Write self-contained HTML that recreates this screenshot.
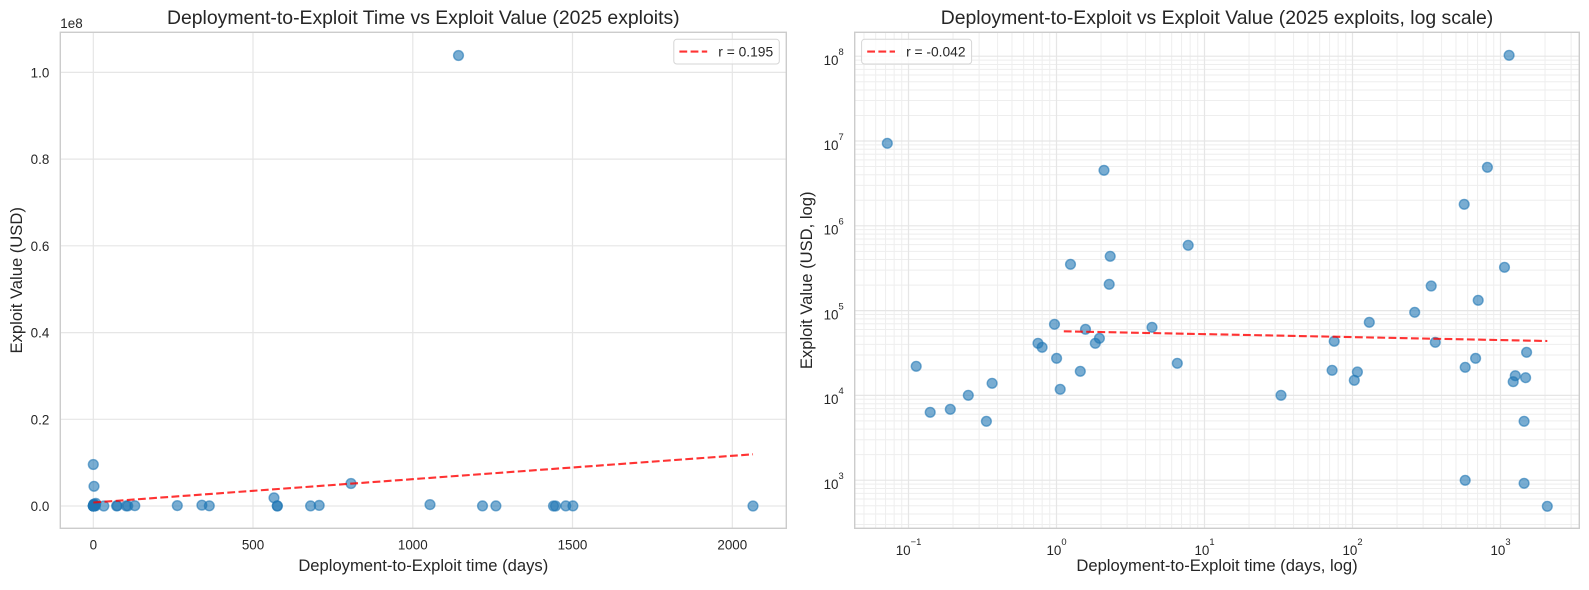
<!DOCTYPE html>
<html><head><meta charset="utf-8"><style>
html,body{margin:0;padding:0;background:#fff;}
svg{display:block;}
text{font-family:"Liberation Sans",Arial,sans-serif;fill:#262626;}
.tk{font-size:13.4px;}
.lb{font-size:16.6px;}
.tt{font-size:19.4px;}
.lg{font-size:13.8px;}
.gM{stroke:#e6e6e6;stroke-width:1.2;}
.gm{stroke:#eeeeee;stroke-width:1;}
.p circle{fill:#1f77b4;fill-opacity:.6;stroke:#1f77b4;stroke-opacity:.6;stroke-width:1.4;}
.fit{stroke:#ff0000;stroke-opacity:.8;stroke-width:2.1;stroke-dasharray:7.8 3.4;fill:none;}
</style></head><body>
<svg width="1589" height="590" viewBox="0 0 1589 590" xmlns="http://www.w3.org/2000/svg">
<rect width="1589" height="590" fill="#fff"/>

<!-- ============ LEFT PLOT ============ -->
<g class="gM">
<line x1="93.3" y1="32.3" x2="93.3" y2="528.3"/>
<line x1="253" y1="32.3" x2="253" y2="528.3"/>
<line x1="412.8" y1="32.3" x2="412.8" y2="528.3"/>
<line x1="572.5" y1="32.3" x2="572.5" y2="528.3"/>
<line x1="732.3" y1="32.3" x2="732.3" y2="528.3"/>
<line x1="60.3" y1="506" x2="786.3" y2="506"/>
<line x1="60.3" y1="419.3" x2="786.3" y2="419.3"/>
<line x1="60.3" y1="332.6" x2="786.3" y2="332.6"/>
<line x1="60.3" y1="245.8" x2="786.3" y2="245.8"/>
<line x1="60.3" y1="159.1" x2="786.3" y2="159.1"/>
<line x1="60.3" y1="72.4" x2="786.3" y2="72.4"/>
</g>
<rect x="60.3" y="32.3" width="726" height="496" fill="none" stroke="#cccccc" stroke-width="1.4"/>

<g class="p">
<circle cx="458.5" cy="55.5" r="4.9"/>
<circle cx="93.3" cy="464.5" r="4.9"/>
<circle cx="94" cy="486.3" r="4.9"/>
<circle cx="351" cy="483.5" r="4.9"/>
<circle cx="274" cy="497.8" r="4.9"/>
<circle cx="95.8" cy="503.4" r="4.9"/>
<circle cx="94" cy="504.1" r="4.9"/>
<circle cx="93.7" cy="504.5" r="4.9"/>
<circle cx="430" cy="504.6" r="4.9"/>
<circle cx="94" cy="505.1" r="4.9"/>
<circle cx="201.9" cy="505.2" r="4.9"/>
<circle cx="319.2" cy="505.4" r="4.9"/>
<circle cx="177.3" cy="505.6" r="4.9"/>
<circle cx="134.8" cy="505.7" r="4.9"/>
<circle cx="93.6" cy="505.7" r="4.9"/>
<circle cx="94.7" cy="505.7" r="4.9"/>
<circle cx="93.8" cy="505.7" r="4.9"/>
<circle cx="94.3" cy="505.8" r="4.9"/>
<circle cx="93.5" cy="505.8" r="4.9"/>
<circle cx="93.6" cy="505.8" r="4.9"/>
<circle cx="93.9" cy="505.8" r="4.9"/>
<circle cx="117.3" cy="505.8" r="4.9"/>
<circle cx="209.3" cy="505.8" r="4.9"/>
<circle cx="572.9" cy="505.9" r="4.9"/>
<circle cx="93.6" cy="505.9" r="4.9"/>
<circle cx="310.6" cy="505.9" r="4.9"/>
<circle cx="93.3" cy="505.9" r="4.9"/>
<circle cx="95.4" cy="505.9" r="4.9"/>
<circle cx="277.3" cy="505.9" r="4.9"/>
<circle cx="93.8" cy="505.9" r="4.9"/>
<circle cx="116.6" cy="505.9" r="4.9"/>
<circle cx="127.8" cy="505.9" r="4.9"/>
<circle cx="126.2" cy="505.9" r="4.9"/>
<circle cx="495.9" cy="505.9" r="4.9"/>
<circle cx="482.5" cy="505.9" r="4.9"/>
<circle cx="565.8" cy="505.9" r="4.9"/>
<circle cx="93.4" cy="505.9" r="4.9"/>
<circle cx="93.6" cy="505.9" r="4.9"/>
<circle cx="93.4" cy="506" r="4.9"/>
<circle cx="103.8" cy="506" r="4.9"/>
<circle cx="93.3" cy="506" r="4.9"/>
<circle cx="93.4" cy="506" r="4.9"/>
<circle cx="93.4" cy="506" r="4.9"/>
<circle cx="553.5" cy="506" r="4.9"/>
<circle cx="277.3" cy="506" r="4.9"/>
<circle cx="555.5" cy="506" r="4.9"/>
<circle cx="753" cy="506" r="4.9"/>
</g>
<path class="fit" d="M93.3,502.5 L753,454.3"/>

<!-- legend left -->
<rect x="673.8" y="39.3" width="105.5" height="24.7" rx="3" fill="#fff" fill-opacity=".8" stroke="#d6d6d6" stroke-width="1"/>
<line class="fit" x1="679.4" y1="51.6" x2="707.2" y2="51.6"/>
<text class="lg" x="718.3" y="56.6">r = 0.195</text>

<!-- left ticks -->
<g class="tk" text-anchor="end">
<text x="49.3" y="511">0.0</text>
<text x="49.3" y="424.3">0.2</text>
<text x="49.3" y="337.6">0.4</text>
<text x="49.3" y="250.8">0.6</text>
<text x="49.3" y="164.1">0.8</text>
<text x="49.3" y="77.4">1.0</text>
</g>
<text class="tk" x="60.3" y="28">1e8</text>
<g class="tk" text-anchor="middle">
<text x="93.3" y="549.3">0</text>
<text x="253" y="549.3">500</text>
<text x="412.8" y="549.3">1000</text>
<text x="572.5" y="549.3">1500</text>
<text x="732.3" y="549.3">2000</text>
</g>
<text class="tt" x="423.3" y="24" text-anchor="middle">Deployment-to-Exploit Time vs Exploit Value (2025 exploits)</text>
<text class="lb" x="423.3" y="571" text-anchor="middle">Deployment-to-Exploit time (days)</text>
<text class="lb" transform="translate(22,280.3) rotate(-90)" text-anchor="middle">Exploit Value (USD)</text>

<!-- ============ RIGHT PLOT ============ -->
<g class="gm">
<!-- minor x -->
<line x1="863.95" y1="32.3" x2="863.95" y2="528.3"/>
<line x1="875.67" y1="32.3" x2="875.67" y2="528.3"/>
<line x1="885.57" y1="32.3" x2="885.57" y2="528.3"/>
<line x1="894.16" y1="32.3" x2="894.16" y2="528.3"/>
<line x1="901.73" y1="32.3" x2="901.73" y2="528.3"/>
<line x1="953.05" y1="32.3" x2="953.05" y2="528.3"/>
<line x1="979.11" y1="32.3" x2="979.11" y2="528.3"/>
<line x1="997.6" y1="32.3" x2="997.6" y2="528.3"/>
<line x1="1011.95" y1="32.3" x2="1011.95" y2="528.3"/>
<line x1="1023.67" y1="32.3" x2="1023.67" y2="528.3"/>
<line x1="1033.57" y1="32.3" x2="1033.57" y2="528.3"/>
<line x1="1042.16" y1="32.3" x2="1042.16" y2="528.3"/>
<line x1="1049.73" y1="32.3" x2="1049.73" y2="528.3"/>
<line x1="1101.05" y1="32.3" x2="1101.05" y2="528.3"/>
<line x1="1127.11" y1="32.3" x2="1127.11" y2="528.3"/>
<line x1="1145.6" y1="32.3" x2="1145.6" y2="528.3"/>
<line x1="1159.95" y1="32.3" x2="1159.95" y2="528.3"/>
<line x1="1171.67" y1="32.3" x2="1171.67" y2="528.3"/>
<line x1="1181.57" y1="32.3" x2="1181.57" y2="528.3"/>
<line x1="1190.16" y1="32.3" x2="1190.16" y2="528.3"/>
<line x1="1197.73" y1="32.3" x2="1197.73" y2="528.3"/>
<line x1="1249.05" y1="32.3" x2="1249.05" y2="528.3"/>
<line x1="1275.11" y1="32.3" x2="1275.11" y2="528.3"/>
<line x1="1293.6" y1="32.3" x2="1293.6" y2="528.3"/>
<line x1="1307.95" y1="32.3" x2="1307.95" y2="528.3"/>
<line x1="1319.67" y1="32.3" x2="1319.67" y2="528.3"/>
<line x1="1329.57" y1="32.3" x2="1329.57" y2="528.3"/>
<line x1="1338.16" y1="32.3" x2="1338.16" y2="528.3"/>
<line x1="1345.73" y1="32.3" x2="1345.73" y2="528.3"/>
<line x1="1397.05" y1="32.3" x2="1397.05" y2="528.3"/>
<line x1="1423.11" y1="32.3" x2="1423.11" y2="528.3"/>
<line x1="1441.6" y1="32.3" x2="1441.6" y2="528.3"/>
<line x1="1455.95" y1="32.3" x2="1455.95" y2="528.3"/>
<line x1="1467.67" y1="32.3" x2="1467.67" y2="528.3"/>
<line x1="1477.57" y1="32.3" x2="1477.57" y2="528.3"/>
<line x1="1486.16" y1="32.3" x2="1486.16" y2="528.3"/>
<line x1="1493.73" y1="32.3" x2="1493.73" y2="528.3"/>
<line x1="1545.05" y1="32.3" x2="1545.05" y2="528.3"/>
<line x1="1571.11" y1="32.3" x2="1571.11" y2="528.3"/>
<!-- minor y -->
<line x1="854.7" y1="524.54" x2="1579.3" y2="524.54"/>
<line x1="854.7" y1="513.95" x2="1579.3" y2="513.95"/>
<line x1="854.7" y1="505.73" x2="1579.3" y2="505.73"/>
<line x1="854.7" y1="499.04" x2="1579.3" y2="499.04"/>
<line x1="854.7" y1="493.39" x2="1579.3" y2="493.39"/>
<line x1="854.7" y1="488.49" x2="1579.3" y2="488.49"/>
<line x1="854.7" y1="484.08" x2="1579.3" y2="484.08"/>
<line x1="854.7" y1="454.67" x2="1579.3" y2="454.67"/>
<line x1="854.7" y1="439.74" x2="1579.3" y2="439.74"/>
<line x1="854.7" y1="429.15" x2="1579.3" y2="429.15"/>
<line x1="854.7" y1="420.93" x2="1579.3" y2="420.93"/>
<line x1="854.7" y1="414.24" x2="1579.3" y2="414.24"/>
<line x1="854.7" y1="408.59" x2="1579.3" y2="408.59"/>
<line x1="854.7" y1="403.69" x2="1579.3" y2="403.69"/>
<line x1="854.7" y1="399.28" x2="1579.3" y2="399.28"/>
<line x1="854.7" y1="369.87" x2="1579.3" y2="369.87"/>
<line x1="854.7" y1="354.94" x2="1579.3" y2="354.94"/>
<line x1="854.7" y1="344.35" x2="1579.3" y2="344.35"/>
<line x1="854.7" y1="336.13" x2="1579.3" y2="336.13"/>
<line x1="854.7" y1="329.44" x2="1579.3" y2="329.44"/>
<line x1="854.7" y1="323.79" x2="1579.3" y2="323.79"/>
<line x1="854.7" y1="318.89" x2="1579.3" y2="318.89"/>
<line x1="854.7" y1="314.48" x2="1579.3" y2="314.48"/>
<line x1="854.7" y1="285.07" x2="1579.3" y2="285.07"/>
<line x1="854.7" y1="270.14" x2="1579.3" y2="270.14"/>
<line x1="854.7" y1="259.55" x2="1579.3" y2="259.55"/>
<line x1="854.7" y1="251.33" x2="1579.3" y2="251.33"/>
<line x1="854.7" y1="244.64" x2="1579.3" y2="244.64"/>
<line x1="854.7" y1="238.99" x2="1579.3" y2="238.99"/>
<line x1="854.7" y1="234.09" x2="1579.3" y2="234.09"/>
<line x1="854.7" y1="229.68" x2="1579.3" y2="229.68"/>
<line x1="854.7" y1="200.27" x2="1579.3" y2="200.27"/>
<line x1="854.7" y1="185.34" x2="1579.3" y2="185.34"/>
<line x1="854.7" y1="174.75" x2="1579.3" y2="174.75"/>
<line x1="854.7" y1="166.53" x2="1579.3" y2="166.53"/>
<line x1="854.7" y1="159.84" x2="1579.3" y2="159.84"/>
<line x1="854.7" y1="154.19" x2="1579.3" y2="154.19"/>
<line x1="854.7" y1="149.29" x2="1579.3" y2="149.29"/>
<line x1="854.7" y1="144.88" x2="1579.3" y2="144.88"/>
<line x1="854.7" y1="115.47" x2="1579.3" y2="115.47"/>
<line x1="854.7" y1="100.54" x2="1579.3" y2="100.54"/>
<line x1="854.7" y1="89.95" x2="1579.3" y2="89.95"/>
<line x1="854.7" y1="81.73" x2="1579.3" y2="81.73"/>
<line x1="854.7" y1="75.04" x2="1579.3" y2="75.04"/>
<line x1="854.7" y1="69.39" x2="1579.3" y2="69.39"/>
<line x1="854.7" y1="64.49" x2="1579.3" y2="64.49"/>
<line x1="854.7" y1="60.08" x2="1579.3" y2="60.08"/>
</g>
<g class="gM">
<line x1="908.5" y1="32.3" x2="908.5" y2="528.3"/>
<line x1="1056.5" y1="32.3" x2="1056.5" y2="528.3"/>
<line x1="1204.5" y1="32.3" x2="1204.5" y2="528.3"/>
<line x1="1352.5" y1="32.3" x2="1352.5" y2="528.3"/>
<line x1="1500.5" y1="32.3" x2="1500.5" y2="528.3"/>
<line x1="854.7" y1="480.2" x2="1579.3" y2="480.2"/>
<line x1="854.7" y1="395.4" x2="1579.3" y2="395.4"/>
<line x1="854.7" y1="310.6" x2="1579.3" y2="310.6"/>
<line x1="854.7" y1="225.8" x2="1579.3" y2="225.8"/>
<line x1="854.7" y1="141" x2="1579.3" y2="141"/>
<line x1="854.7" y1="56.2" x2="1579.3" y2="56.2"/>
</g>
<rect x="854.7" y="32.3" width="724.6" height="496" fill="none" stroke="#cccccc" stroke-width="1.4"/>

<g class="p">
<circle cx="1509.1" cy="55.3" r="4.9"/>
<circle cx="887.3" cy="143.3" r="4.9"/>
<circle cx="1104" cy="170.3" r="4.9"/>
<circle cx="1487.4" cy="167.3" r="4.9"/>
<circle cx="1464.2" cy="204.3" r="4.9"/>
<circle cx="1188.2" cy="245.3" r="4.9"/>
<circle cx="1110.2" cy="256.3" r="4.9"/>
<circle cx="1070.5" cy="264.3" r="4.9"/>
<circle cx="1504.5" cy="267.3" r="4.9"/>
<circle cx="1109.2" cy="284.3" r="4.9"/>
<circle cx="1431.2" cy="286" r="4.9"/>
<circle cx="1478.2" cy="300.3" r="4.9"/>
<circle cx="1414.7" cy="312.3" r="4.9"/>
<circle cx="1369.3" cy="322.3" r="4.9"/>
<circle cx="1054.5" cy="324.3" r="4.9"/>
<circle cx="1152" cy="327.3" r="4.9"/>
<circle cx="1085.5" cy="329.3" r="4.9"/>
<circle cx="1099.4" cy="338.3" r="4.9"/>
<circle cx="1038" cy="343.3" r="4.9"/>
<circle cx="1042.1" cy="347.3" r="4.9"/>
<circle cx="1095.3" cy="343.3" r="4.9"/>
<circle cx="1334.2" cy="341.3" r="4.9"/>
<circle cx="1435.3" cy="342.3" r="4.9"/>
<circle cx="1526.6" cy="352.3" r="4.9"/>
<circle cx="1056.6" cy="358.3" r="4.9"/>
<circle cx="1475.6" cy="358.3" r="4.9"/>
<circle cx="916.2" cy="366.3" r="4.9"/>
<circle cx="1177.3" cy="363.3" r="4.9"/>
<circle cx="1465.2" cy="367.3" r="4.9"/>
<circle cx="1080.3" cy="371.3" r="4.9"/>
<circle cx="1332.1" cy="370.3" r="4.9"/>
<circle cx="1357.4" cy="372" r="4.9"/>
<circle cx="1354.3" cy="380.3" r="4.9"/>
<circle cx="1515.3" cy="375.7" r="4.9"/>
<circle cx="1513.2" cy="381.7" r="4.9"/>
<circle cx="1525.6" cy="377.7" r="4.9"/>
<circle cx="992.1" cy="383.3" r="4.9"/>
<circle cx="1060.2" cy="389.3" r="4.9"/>
<circle cx="968.3" cy="395.3" r="4.9"/>
<circle cx="1281" cy="395.3" r="4.9"/>
<circle cx="930.2" cy="412.3" r="4.9"/>
<circle cx="950.3" cy="409.3" r="4.9"/>
<circle cx="986.4" cy="421.3" r="4.9"/>
<circle cx="1524.1" cy="421.3" r="4.9"/>
<circle cx="1465.2" cy="480.3" r="4.9"/>
<circle cx="1524.1" cy="483.3" r="4.9"/>
<circle cx="1547.3" cy="506.3" r="4.9"/>
</g>
<path class="fit" d="M1063.8,331.3 L1547.3,341"/>

<!-- legend right -->
<rect x="861.6" y="39.3" width="110" height="24.7" rx="3" fill="#fff" fill-opacity=".8" stroke="#d6d6d6" stroke-width="1"/>
<line class="fit" x1="867.2" y1="51.6" x2="895" y2="51.6"/>
<text class="lg" x="906.1" y="56.6">r = -0.042</text>

<!-- right y ticks -->
<g class="tk" text-anchor="end">
<text x="843.7" y="489">10<tspan dy="-10" font-size="9.4">3</tspan></text>
<text x="843.7" y="404.2">10<tspan dy="-10" font-size="9.4">4</tspan></text>
<text x="843.7" y="319.4">10<tspan dy="-10" font-size="9.4">5</tspan></text>
<text x="843.7" y="234.6">10<tspan dy="-10" font-size="9.4">6</tspan></text>
<text x="843.7" y="149.8">10<tspan dy="-10" font-size="9.4">7</tspan></text>
<text x="843.7" y="65">10<tspan dy="-10" font-size="9.4">8</tspan></text>
</g>
<!-- right x ticks -->
<g class="tk" text-anchor="middle">
<text x="908.5" y="555">10<tspan dy="-10" font-size="9.4">−1</tspan></text>
<text x="1056.5" y="555">10<tspan dy="-10" font-size="9.4">0</tspan></text>
<text x="1204.5" y="555">10<tspan dy="-10" font-size="9.4">1</tspan></text>
<text x="1352.5" y="555">10<tspan dy="-10" font-size="9.4">2</tspan></text>
<text x="1500.5" y="555">10<tspan dy="-10" font-size="9.4">3</tspan></text>
</g>
<text class="tt" x="1217" y="24" text-anchor="middle">Deployment-to-Exploit vs Exploit Value (2025 exploits, log scale)</text>
<text class="lb" x="1217" y="571" text-anchor="middle">Deployment-to-Exploit time (days, log)</text>
<text class="lb" transform="translate(812,280.3) rotate(-90)" text-anchor="middle">Exploit Value (USD, log)</text>
</svg>
</body></html>
